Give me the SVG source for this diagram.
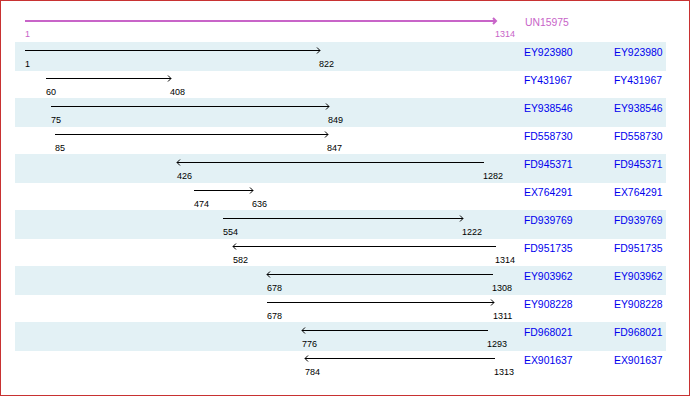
<svg xmlns="http://www.w3.org/2000/svg" width="690" height="396" viewBox="0 0 690 396">
<style>
.band{fill:#e3f1f5}
.ln{stroke:#000;stroke-width:1;fill:none}
.num{font-family:"Liberation Sans",Arial,sans-serif;font-size:9px;fill:#000}
.id{font-family:"Liberation Sans",Arial,sans-serif;font-size:10.4px;fill:#0000ee}
.ref{stroke:#c864c8;stroke-width:2;fill:none}
.refn{font-family:"Liberation Sans",Arial,sans-serif;font-size:9px;fill:#c864c8}
.refid{font-family:"Liberation Sans",Arial,sans-serif;font-size:10.4px;fill:#c864c8}
</style>
<rect x="0.5" y="0.5" width="689" height="395" fill="#fff" stroke="#c83232" stroke-width="1"/>
<g id="bands">
<rect class="band" x="15" y="42" width="651" height="29"/>
<rect class="band" x="15" y="98" width="651" height="29"/>
<rect class="band" x="15" y="154" width="651" height="29"/>
<rect class="band" x="15" y="210" width="651" height="29"/>
<rect class="band" x="15" y="266" width="651" height="29"/>
<rect class="band" x="15" y="322" width="651" height="29"/>
</g>
<g id="UN15975">
<path class="ref" d="M25 21H496M493 18L496 21L493 24"/>
<text class="refn" x="25" y="37">1</text>
<text class="refn" x="495" y="37">1314</text>
<text class="refid" x="525" y="26">UN15975</text>
</g>
<g id="connectors">
<path class="ln" d="M25 50.5H320M317 47.5L320 50.5L317 53.5"/>
<path class="ln" d="M46 78.5H171M168 75.5L171 78.5L168 81.5"/>
<path class="ln" d="M51 106.5H329M326 103.5L329 106.5L326 109.5"/>
<path class="ln" d="M55 134.5H328M325 131.5L328 134.5L325 137.5"/>
<path class="ln" d="M177 162.5H484M180 159.5L177 162.5L180 165.5"/>
<path class="ln" d="M194 190.5H253M250 187.5L253 190.5L250 193.5"/>
<path class="ln" d="M223 218.5H463M460 215.5L463 218.5L460 221.5"/>
<path class="ln" d="M233 246.5H496M236 243.5L233 246.5L236 249.5"/>
<path class="ln" d="M267 274.5H493M270 271.5L267 274.5L270 277.5"/>
<path class="ln" d="M267 302.5H494M491 299.5L494 302.5L491 305.5"/>
<path class="ln" d="M302 330.5H488M305 327.5L302 330.5L305 333.5"/>
<path class="ln" d="M305 358.5H495M308 355.5L305 358.5L308 361.5"/>
</g>
<g id="EY923980"><text class="num" x="25" y="67">1</text><text class="num" x="319" y="67">822</text><text class="id" x="524" y="56">EY923980</text><text class="id" x="614" y="56">EY923980</text></g>
<g id="FY431967"><text class="num" x="46" y="95">60</text><text class="num" x="170" y="95">408</text><text class="id" x="524" y="84">FY431967</text><text class="id" x="614" y="84">FY431967</text></g>
<g id="EY938546"><text class="num" x="51" y="123">75</text><text class="num" x="328" y="123">849</text><text class="id" x="524" y="112">EY938546</text><text class="id" x="614" y="112">EY938546</text></g>
<g id="FD558730"><text class="num" x="55" y="151">85</text><text class="num" x="327" y="151">847</text><text class="id" x="524" y="140">FD558730</text><text class="id" x="614" y="140">FD558730</text></g>
<g id="FD945371"><text class="num" x="177" y="179">426</text><text class="num" x="483" y="179">1282</text><text class="id" x="524" y="168">FD945371</text><text class="id" x="614" y="168">FD945371</text></g>
<g id="EX764291"><text class="num" x="194" y="207">474</text><text class="num" x="252" y="207">636</text><text class="id" x="524" y="196">EX764291</text><text class="id" x="614" y="196">EX764291</text></g>
<g id="FD939769"><text class="num" x="223" y="235">554</text><text class="num" x="462" y="235">1222</text><text class="id" x="524" y="224">FD939769</text><text class="id" x="614" y="224">FD939769</text></g>
<g id="FD951735"><text class="num" x="233" y="263">582</text><text class="num" x="495" y="263">1314</text><text class="id" x="524" y="252">FD951735</text><text class="id" x="614" y="252">FD951735</text></g>
<g id="EY903962"><text class="num" x="267" y="291">678</text><text class="num" x="492" y="291">1308</text><text class="id" x="524" y="280">EY903962</text><text class="id" x="614" y="280">EY903962</text></g>
<g id="EY908228"><text class="num" x="267" y="319">678</text><text class="num" x="493" y="319">1311</text><text class="id" x="524" y="308">EY908228</text><text class="id" x="614" y="308">EY908228</text></g>
<g id="FD968021"><text class="num" x="302" y="347">776</text><text class="num" x="487" y="347">1293</text><text class="id" x="524" y="336">FD968021</text><text class="id" x="614" y="336">FD968021</text></g>
<g id="EX901637"><text class="num" x="305" y="375">784</text><text class="num" x="494" y="375">1313</text><text class="id" x="524" y="364">EX901637</text><text class="id" x="614" y="364">EX901637</text></g>
</svg>
